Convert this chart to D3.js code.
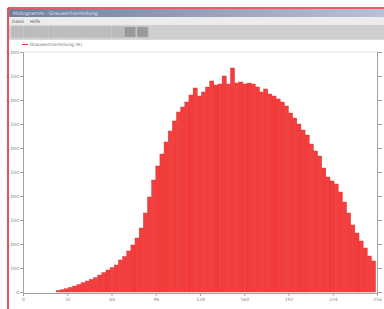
<!DOCTYPE html>
<meta charset="utf-8">
<script src="https://d3js.org/d3.v7.min.js"></script>
<style>
  body { margin: 0; background: #fff; }
  text { font-family: "DejaVu Sans", sans-serif; }
</style>
<div id="my_dataviz"></div>
<script>

// grey value bins (start of each bin, width 3) and counts
var binStart = 24, binWidth = 3;
var counts = [31, 48, 69, 98, 125, 156, 194, 229, 263, 300,
  354, 404, 458, 510, 563, 667, 740, 854, 979, 1125,
  1333, 1646, 1979, 2333, 2625, 2875, 3125, 3354, 3563, 3750,
  3854, 3958, 4104, 4250, 4083, 4167, 4271, 4396, 4313, 4333,
  4500, 4333, 4667, 4354, 4375, 4333, 4354, 4333, 4271, 4167,
  4229, 4125, 4083, 4021, 3958, 3875, 3729, 3625, 3500, 3375,
  3271, 3083, 2938, 2833, 2583, 2396, 2313, 2250, 2083, 1875,
  1646, 1396, 1229, 1063, 917, 750, 646];
var xTicks = [0, 32, 64, 96, 128, 160, 192, 224, 256];
var yTicks = [0, 500, 1000, 1500, 2000, 2500, 3000, 3500, 4000, 4500, 5000];
var menuItems = ["Datei", "Hilfe"];
var windowTitle = "Histogramm - Grauwertverteilung";
var legendLabel = "Grauwertverteilung (R)";

var W = 384, H = 309;
var svg = d3.select("#my_dataviz")
  .append("svg")
    .attr("width", W)
    .attr("height", H);

// window chrome
var grad = svg.append("defs").append("linearGradient").attr("id", "tb");
grad.append("stop").attr("offset", "0%").attr("stop-color", "#6f7f9c");
grad.append("stop").attr("offset", "100%").attr("stop-color", "#b7c2d6");

svg.append("rect").attr("x", 9).attr("y", 9).attr("width", W - 9).attr("height", 8).style("fill", "url(#tb)");
svg.append("text").attr("x", 13).attr("y", 15).text(windowTitle)
  .style("font-size", "5px").style("fill", "#dde3ee");
svg.append("rect").attr("x", 9).attr("y", 17).attr("width", W - 9).attr("height", 8).style("fill", "#ececec");
svg.selectAll("menu").data(menuItems).enter().append("text")
  .attr("x", function(d, i) { return 12 + i * 18; })
  .attr("y", 23).text(function(d) { return d; })
  .style("font-size", "4.5px").style("fill", "#555");
svg.append("rect").attr("x", 9).attr("y", 25).attr("width", W - 9).attr("height", 14).style("fill", "#cfcfcf");
// toolbar buttons
var buttons = d3.range(11);
svg.selectAll("btn").data(buttons).enter().append("rect")
  .attr("x", function(d) { return 12 + d * 12.5; })
  .attr("y", 27).attr("width", 11).attr("height", 10)
  .style("fill", function(d) { return d >= 9 ? "#9a9a9a" : "#bdbdbd"; })
  .style("stroke", "#a8a8a8").style("stroke-width", 0.5);
svg.append("line").attr("x1", 9).attr("x2", W).attr("y1", 39.5).attr("y2", 39.5)
  .style("stroke", "#d8d8d8");

// red frame
svg.append("line").attr("x1", 8).attr("x2", 8).attr("y1", 8).attr("y2", H).style("stroke", "#e8262a").style("stroke-width", 1.6);
svg.append("line").attr("x1", 8).attr("x2", W).attr("y1", 8).attr("y2", 8).style("stroke", "#e8262a").style("stroke-width", 1.6);

// legend
svg.append("line").attr("x1", 22).attr("x2", 28).attr("y1", 44.5).attr("y2", 44.5).style("stroke", "#e33").style("stroke-width", 1);
svg.append("text").attr("x", 30).attr("y", 46).text(legendLabel)
  .style("font-size", "4.5px").style("fill", "#777");

// plot area
var plotLeft = 23, plotRight = 377, plotTop = 52, plotBottom = 292;
var x = d3.scaleLinear().domain([0, 256]).range([plotLeft, plotRight]);
var y = d3.scaleLinear().domain([0, 5000]).range([plotBottom, plotTop]);

svg.append("line").attr("x1", plotLeft).attr("x2", plotRight).attr("y1", plotTop).attr("y2", plotTop)
  .style("stroke", "#e4e4e4");

svg.selectAll("mybar")
  .data(counts)
  .enter()
  .append("rect")
    .attr("x", function(d, i) { return x(binStart + i * binWidth); })
    .attr("y", function(d) { return y(d); })
    .attr("width", function(d, i) { return x(binStart + (i + 1) * binWidth) - x(binStart + i * binWidth); })
    .attr("height", function(d) { return plotBottom - y(d); })
    .style("fill", function(d, i) { return i % 2 ? "#f04040" : "#f53c3a"; })
    .style("stroke", "#e0302f").style("stroke-width", 0.4);

var gx = svg.append("g")
  .attr("transform", "translate(0," + (plotBottom + 1) + ")")
  .call(d3.axisBottom(x).tickValues(xTicks).tickSize(3).tickPadding(2));
var gy = svg.append("g")
  .attr("transform", "translate(" + plotLeft + ",0)")
  .call(d3.axisLeft(y).tickValues(yTicks).tickSize(3).tickPadding(1));
var gr = svg.append("g")
  .attr("transform", "translate(" + plotRight + ",0)")
  .call(d3.axisRight(y).tickValues(yTicks).tickSize(5).tickFormat(""));

[gx, gy, gr].forEach(function(g) {
  g.selectAll("path, line").style("stroke", "#a0a0a0");
  g.selectAll("text").style("font-size", "4.5px").style("fill", "#888");
});

</script>
